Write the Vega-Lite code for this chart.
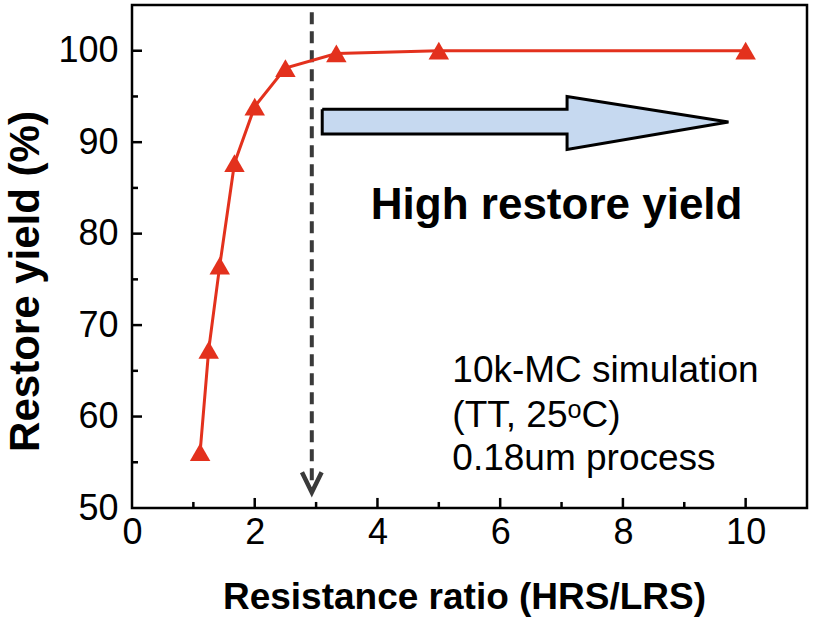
{
  "$schema": "https://vega.github.io/schema/vega-lite/v6.json",
  "width": 675,
  "height": 503,
  "autosize": {"type": "none"},
  "padding": {"left": 132, "top": 5, "right": 8, "bottom": 114},
  "background": "white",
  "config": {
    "view": {"stroke": "black", "strokeWidth": 2.5},
    "font": "Liberation Sans",
    "axis": {
      "domain": false,
      "ticks": false,
      "grid": false,
      "labelFont": "Liberation Sans",
      "labelColor": "black",
      "labelFontSize": 36,
      "titleFont": "Liberation Sans",
      "titleColor": "black",
      "titleFontWeight": "bold"
    }
  },
  "datasets": {
    "yield": [
      {"ratio": 1.11, "yield": 56.1},
      {"ratio": 1.25, "yield": 67.3},
      {"ratio": 1.43, "yield": 76.5},
      {"ratio": 1.67, "yield": 87.7},
      {"ratio": 2.0, "yield": 93.9},
      {"ratio": 2.5, "yield": 98.1},
      {"ratio": 3.33, "yield": 99.7},
      {"ratio": 5.0, "yield": 100.0},
      {"ratio": 10.0, "yield": 100.0}
    ],
    "xmajor": [{"v": 2}, {"v": 4}, {"v": 6}, {"v": 8}, {"v": 10}],
    "xminor": [{"v": 1}, {"v": 3}, {"v": 5}, {"v": 7}, {"v": 9}],
    "ymajor": [{"v": 60}, {"v": 70}, {"v": 80}, {"v": 90}, {"v": 100}],
    "yminor": [{"v": 55}, {"v": 65}, {"v": 75}, {"v": 85}, {"v": 95}],
    "dash": [{"x": 2.93, "y": 104.2, "y2": 52.0}],
    "chev": [
      {"i": 0, "x": 2.77, "y": 53.9},
      {"i": 1, "x": 2.93, "y": 51.7},
      {"i": 2, "x": 3.09, "y": 53.9}
    ],
    "arrow": [
      {"i": 0, "x": 3.1, "y": 93.6},
      {"i": 1, "x": 7.09, "y": 93.6},
      {"i": 2, "x": 7.09, "y": 95.0},
      {"i": 3, "x": 9.72, "y": 92.2},
      {"i": 4, "x": 7.09, "y": 89.2},
      {"i": 5, "x": 7.09, "y": 90.9},
      {"i": 6, "x": 3.1, "y": 90.9},
      {"i": 7, "x": 3.1, "y": 93.6}
    ],
    "big": [{"x": 6.92, "y": 81.6, "t": "High restore yield"}],
    "note": [
      {"x": 5.22, "y": 63.8, "t": "10k-MC simulation"},
      {"x": 5.22, "y": 58.9, "t": "(TT, 25ᵒC)"},
      {"x": 5.22, "y": 54.2, "t": "0.18um process"}
    ]
  },
  "layer": [
    {
      "data": {"name": "arrow"},
      "mark": {"type": "line", "fill": "#c6d9f0", "stroke": "black", "strokeWidth": 3, "strokeJoin": "miter"},
      "encoding": {
        "x": {"field": "x", "type": "quantitative", "scale": {"domain": [0, 11], "nice": false, "zero": false},
          "axis": {
            "orient": "bottom",
            "title": "Resistance ratio (HRS/LRS)",
            "titleFontSize": 37,
            "titleX": 332,
            "titleY": 89,
            "titleBaseline": "middle",
            "values": [0, 2, 4, 6, 8, 10],
            "format": "d",
            "labelPadding": 7,
            "labelFlush": false
          }},
        "y": {"field": "y", "type": "quantitative", "scale": {"domain": [50, 105], "nice": false, "zero": false},
          "axis": {
            "orient": "left",
            "title": "Restore yield (%)",
            "titleFontSize": 42,
            "titleAngle": -90,
            "titleX": -107,
            "titleY": 276,
            "titleAlign": "center",
            "titleBaseline": "middle",
            "values": [50, 60, 70, 80, 90, 100],
            "format": "d",
            "labelPadding": 14,
            "labelFlush": false
          }},
        "order": {"field": "i", "type": "quantitative"}
      }
    },
    {
      "data": {"name": "xmajor"},
      "mark": {"type": "rule", "color": "black", "strokeWidth": 2.5},
      "encoding": {
        "x": {"field": "v", "type": "quantitative"},
        "y": {"datum": 50},
        "y2": {"datum": 51.1}
      }
    },
    {
      "data": {"name": "xminor"},
      "mark": {"type": "rule", "color": "black", "strokeWidth": 2.5},
      "encoding": {
        "x": {"field": "v", "type": "quantitative"},
        "y": {"datum": 50},
        "y2": {"datum": 50.66}
      }
    },
    {
      "data": {"name": "ymajor"},
      "mark": {"type": "rule", "color": "black", "strokeWidth": 2.5},
      "encoding": {
        "y": {"field": "v", "type": "quantitative"},
        "x": {"datum": 0},
        "x2": {"datum": 0.163}
      }
    },
    {
      "data": {"name": "yminor"},
      "mark": {"type": "rule", "color": "black", "strokeWidth": 2.5},
      "encoding": {
        "y": {"field": "v", "type": "quantitative"},
        "x": {"datum": 0},
        "x2": {"datum": 0.098}
      }
    },
    {
      "data": {"name": "dash"},
      "mark": {"type": "rule", "color": "#3a3a3a", "strokeWidth": 4, "strokeDash": [12, 7]},
      "encoding": {
        "x": {"field": "x", "type": "quantitative"},
        "y": {"field": "y", "type": "quantitative"},
        "y2": {"field": "y2"}
      }
    },
    {
      "data": {"name": "chev"},
      "mark": {"type": "line", "color": "#3a3a3a", "strokeWidth": 4.5, "strokeJoin": "miter"},
      "encoding": {
        "x": {"field": "x", "type": "quantitative"},
        "y": {"field": "y", "type": "quantitative"},
        "order": {"field": "i", "type": "quantitative"}
      }
    },
    {
      "data": {"name": "yield"},
      "mark": {"type": "line", "color": "#e3311d", "strokeWidth": 3},
      "encoding": {
        "x": {"field": "ratio", "type": "quantitative"},
        "y": {"field": "yield", "type": "quantitative"}
      }
    },
    {
      "data": {"name": "yield"},
      "mark": {"type": "point", "shape": "triangle-up", "filled": true, "color": "#e3311d", "opacity": 1, "size": 420},
      "encoding": {
        "x": {"field": "ratio", "type": "quantitative"},
        "y": {"field": "yield", "type": "quantitative"}
      }
    },
    {
      "data": {"name": "big"},
      "mark": {"type": "text", "font": "Liberation Sans", "fontWeight": "bold", "fontSize": 44, "align": "center", "baseline": "alphabetic", "color": "black"},
      "encoding": {
        "x": {"field": "x", "type": "quantitative"},
        "y": {"field": "y", "type": "quantitative"},
        "text": {"field": "t"}
      }
    },
    {
      "data": {"name": "note"},
      "mark": {"type": "text", "font": "Liberation Sans", "fontSize": 37, "align": "left", "baseline": "alphabetic", "color": "black"},
      "encoding": {
        "x": {"field": "x", "type": "quantitative"},
        "y": {"field": "y", "type": "quantitative"},
        "text": {"field": "t"}
      }
    }
  ]
}
